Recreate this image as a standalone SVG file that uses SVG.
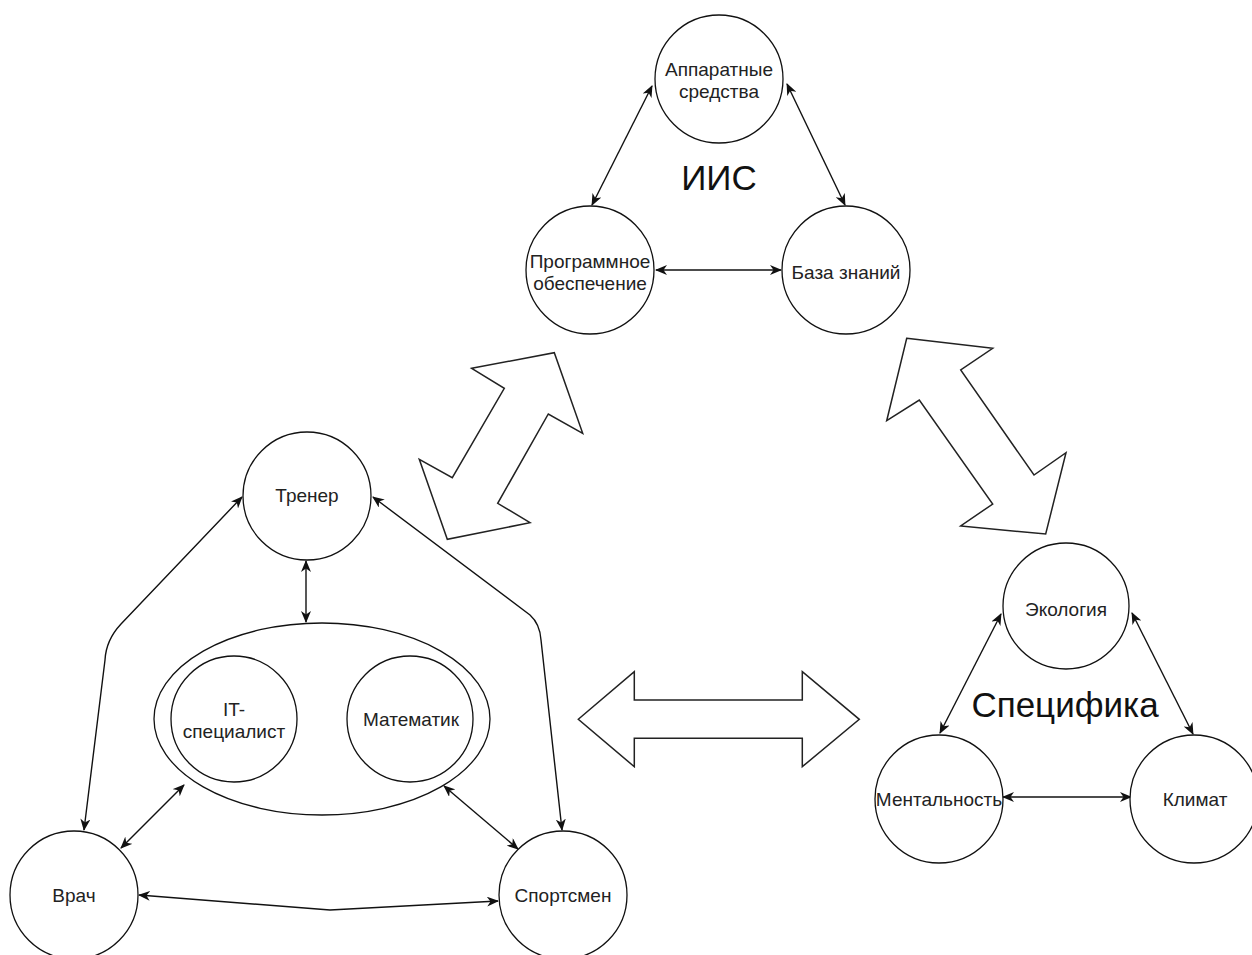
<svg xmlns="http://www.w3.org/2000/svg" width="1252" height="955" viewBox="0 0 1252 955">
<style>
.n{fill:#fff;stroke:#111;stroke-width:1.3}
.t{font-family:"Liberation Sans",Arial,sans-serif;font-size:19px;fill:#222;text-anchor:middle;dominant-baseline:central}
.big{font-family:"Liberation Sans",Arial,sans-serif;font-size:35px;fill:#111;text-anchor:middle}
.c{fill:none;stroke:#111;stroke-width:1.4;marker-start:url(#a);marker-end:url(#a)}
.b{fill:#fff;stroke:#222;stroke-width:1.5;stroke-linejoin:miter}
</style>
<defs>
<marker id="a" viewBox="0 0 12 10" refX="11" refY="5" markerWidth="12" markerHeight="10" markerUnits="userSpaceOnUse" orient="auto-start-reverse">
<path d="M0,0 L12,5 L0,10 L3.5,5 z" fill="#111"/>
</marker>
</defs>
<rect width="1252" height="955" fill="#fff"/>

<g id="connectors">
<line class="c" x1="652" y1="86" x2="592" y2="205"/>
<line class="c" x1="787" y1="84" x2="845" y2="205"/>
<line class="c" x1="656" y1="270" x2="781" y2="270"/>
<line class="c" x1="306" y1="561" x2="306" y2="622"/>
<path class="c" d="M242,497 L121,624 Q106,640 105,660 L84,830"/>
<path class="c" d="M373,497 L530,615 Q540,624 541,640 L562,830"/>
<line class="c" x1="184" y1="785" x2="121" y2="848"/>
<line class="c" x1="444" y1="786" x2="518" y2="849"/>
<line class="c" x1="298" y1="719" x2="346" y2="719"/>
<path class="c" d="M139,895 L330,910 L498,901"/>
<line class="c" x1="1001" y1="614" x2="940" y2="733"/>
<line class="c" x1="1132" y1="613" x2="1193" y2="734"/>
<line class="c" x1="1003" y1="797" x2="1131" y2="797"/>
</g>

<g id="block-arrows">
<polygon class="b" points="471.7,368.3 554.3,352.7 582.7,433.3 548.3,414 497.7,503.3 530,522.7 447.3,539.3 419.3,459.3 452.3,477.7 504.3,388.3"/>
<polygon class="b" points="906.7,338.3 992.7,348.3 960.7,370 1034,475 1066,452.7 1045.7,534 960.7,526 992.7,504 919.3,400 886.7,420.7"/>
<polygon class="b" points="578.3,719.3 634.3,671.7 634.3,700 802.3,700 802.3,671.7 859.3,719.3 802.3,766.7 802.3,738.3 634.3,738.3 634.3,766.7"/>
</g>

<g id="node-apparat"><circle class="n" cx="719" cy="79" r="64"/><text class="t" x="719" y="69">Аппаратные</text><text class="t" x="719" y="91">средства</text></g>
<g id="node-program"><circle class="n" cx="590" cy="270" r="64"/><text class="t" x="590" y="261">Программное</text><text class="t" x="590" y="283">обеспечение</text></g>
<g id="node-baza"><circle class="n" cx="846" cy="270" r="64"/><text class="t" x="846" y="272">База знаний</text></g>
<g id="label-iis"><text class="big" x="719" y="190">ИИС</text></g>

<g id="node-trener"><circle class="n" cx="307" cy="496" r="64"/><text class="t" x="307" y="495">Тренер</text></g>
<g id="node-group"><ellipse class="n" cx="322" cy="719" rx="168" ry="96"/></g>
<g id="node-it"><circle class="n" cx="234" cy="719" r="63"/><text class="t" x="234" y="709">IT-</text><text class="t" x="234" y="731">специалист</text></g>
<g id="node-math"><circle class="n" cx="410" cy="719" r="63"/><text class="t" x="411" y="719">Математик</text></g>
<g id="node-vrach"><circle class="n" cx="74" cy="895" r="64"/><text class="t" x="74" y="895">Врач</text></g>
<g id="node-sport"><circle class="n" cx="563" cy="895" r="64"/><text class="t" x="563" y="895">Спортсмен</text></g>

<g id="node-ecology"><circle class="n" cx="1066" cy="606" r="63"/><text class="t" x="1066" y="609">Экология</text></g>
<g id="node-mental"><circle class="n" cx="939" cy="799" r="64"/><text class="t" x="939" y="799">Ментальность</text></g>
<g id="node-climat"><circle class="n" cx="1194" cy="799" r="64"/><text class="t" x="1195" y="799">Климат</text></g>
<g id="label-spec"><text class="big" x="1065" y="717">Специфика</text></g>
</svg>
